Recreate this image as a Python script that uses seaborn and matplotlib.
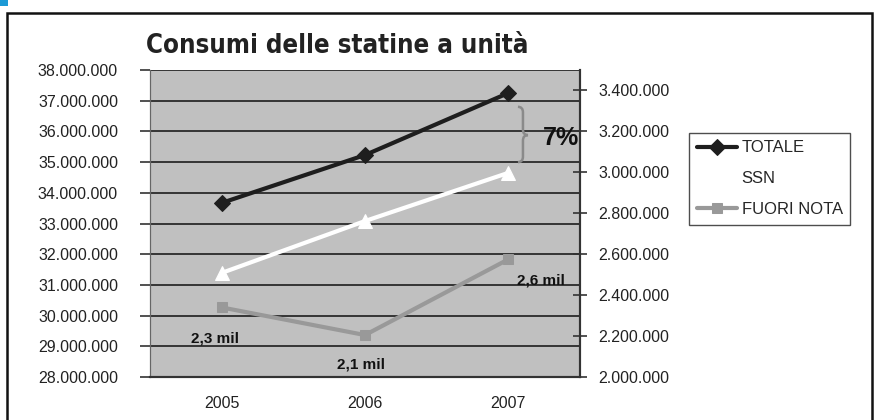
import pandas as pd
import matplotlib.pyplot as plt
import seaborn as sns
from matplotlib.path import Path
from matplotlib.patches import PathPatch, Rectangle

# valori
years = ['2005', '2006', '2007']
totale = [33670000, 35230000, 37250000]
ssn = [31390000, 33080000, 34650000]
fuori_nota = [2340000, 2205000, 2575000]
fuori_labels = ['2,3 mil', '2,1 mil', '2,6 mil']
left_ticks = list(range(28000000, 38000001, 1000000))
right_ticks = list(range(2000000, 3400001, 200000))


def dotted(v):
    """38000000 -> 38.000.000"""
    return f"{v:,}".replace(',', '.')


def main():
    sns.set_style('white')
    plt.rcParams['font.family'] = ['Liberation Sans', 'DejaVu Sans']

    df = pd.DataFrame({'anno': years, 'TOTALE': totale, 'SSN': ssn, 'FUORI NOTA': fuori_nota})

    fig = plt.figure(figsize=(8.74, 4.2), dpi=100)
    ax = fig.add_axes([150 / 874, 1 - 377 / 420, 430 / 874, 307 / 420])
    ax.set_facecolor('#c0c0c0')
    ax2 = ax.twinx()

    sns.lineplot(data=df, x='anno', y='TOTALE', ax=ax, color='#1e1e1e', lw=3,
                 marker='D', markersize=8, markeredgecolor='#1e1e1e', label='TOTALE', legend=False)
    sns.lineplot(data=df, x='anno', y='SSN', ax=ax, color='white', lw=3,
                 marker='^', markersize=10, markeredgecolor='white', label='SSN', legend=False)
    sns.lineplot(data=df, x='anno', y='FUORI NOTA', ax=ax2, color='#999999', lw=3,
                 marker='s', markersize=7, markeredgecolor='#999999', label='FUORI NOTA', legend=False)

    #  assi
    ax.set_xlim(-0.5, 2.5)
    ax.set_ylim(28000000, 38000000)
    ax2.set_ylim(2000000, 3500000)
    ax.set_yticks(left_ticks)
    ax.set_yticklabels([dotted(v) for v in left_ticks])
    ax2.set_yticks(right_ticks)
    ax2.set_yticklabels([dotted(v) for v in right_ticks])
    ax.set_xticks(range(len(years)))
    ax.set_xticklabels(years)
    ax.set_xticks([-0.5, 0.5, 1.5, 2.5], minor=True)
    ax.set_xlabel('')
    ax.set_ylabel('')
    ax2.set_ylabel('')

    ax.grid(axis='y', color='#2a2a2a', lw=1.3)
    ax.grid(axis='x', visible=False)
    ax.tick_params(axis='x', which='major', length=0, pad=14, labelsize=11.5, colors='#222')
    ax.tick_params(axis='x', which='minor', length=7, width=1.2, direction='out', color='#333')
    ax.tick_params(axis='y', length=7, width=1.2, direction='out', pad=16, labelsize=11.5,
                   color='#333', labelcolor='#222', left=True)
    ax2.tick_params(axis='y', length=10, width=1.2, direction='inout', pad=8, labelsize=11.5,
                    color='#333', labelcolor='#222', right=True)

    for a in (ax, ax2):
        a.spines['top'].set_visible(False)
        a.spines['left'].set_color('#666')
        a.spines['bottom'].set_color('#333')
        a.spines['bottom'].set_linewidth(1.5)
        a.spines['right'].set_color('#333')
        a.spines['right'].set_linewidth(1.5)

    #  etichette FUORI NOTA
    label_pos = [(-0.05, 2190000), (0.97, 2060000), (2.23, 2470000)]
    for (x, y), txt in zip(label_pos, fuori_labels):
        ax2.text(x, y, txt, ha='center', va='center', fontsize=11, fontweight='bold', color='#111')

    #  graffa + 7%
    x0, xm, xt = 2.067, 2.102, 2.137
    yt, ym, yb, d = 36800000, 35880000, 35000000, 180000
    verts = [(x0, yt), (xm, yt), (xm, yt - d), (xm, ym + d), (xm, ym), (xt, ym),
             (xm, ym), (xm, ym - d), (xm, yb + d), (xm, yb), (x0, yb)]
    codes = [Path.MOVETO, Path.CURVE3, Path.CURVE3, Path.LINETO, Path.CURVE3, Path.CURVE3,
             Path.CURVE3, Path.CURVE3, Path.LINETO, Path.CURVE3, Path.CURVE3]
    ax.add_patch(PathPatch(Path(verts, codes), fill=False, edgecolor='#8a8a8a', lw=1.8, clip_on=False))
    ax.text(2.37, 35780000, '7%', ha='center', va='center', fontsize=18, fontweight='bold',
            color='#111', clip_on=False, zorder=10)

    #  legenda
    handles = ax.get_lines()[:2] + ax2.get_lines()[:1]
    leg = fig.legend(handles, ['TOTALE', 'SSN', 'FUORI NOTA'], loc='upper left',
                     bbox_to_anchor=(689 / 874, 1 - 133 / 420), fontsize=12, frameon=True,
                     fancybox=False, edgecolor='#222', labelspacing=0.95, handlelength=2.4,
                     handletextpad=0.3, borderpad=0.45, borderaxespad=0)
    leg.get_frame().set_linewidth(1.0)

    #  titolo
    fig.text(337 / 874, 1 - 46 / 420, 'Consumi delle statine a unità', ha='center', va='center',
             fontsize=18.5, fontweight='bold', fontstretch='condensed', color='#222',
             family=['DejaVu Sans'])

    #  cornice esterna
    fig.patches.append(Rectangle((7 / 874, -0.01), 1 - 9 / 874, 1 - 13 / 420 + 0.01,
                                 transform=fig.transFigure, fill=False, edgecolor='#111', lw=1.8))
    fig.patches.append(Rectangle((0, 1 - 6 / 420), 8 / 874, 6 / 420, transform=fig.transFigure,
                                 color='#1c9ad6', lw=0))

    fig.savefig('out.png', dpi=100)
    plt.close(fig)


if __name__ == "__main__":
    main()
